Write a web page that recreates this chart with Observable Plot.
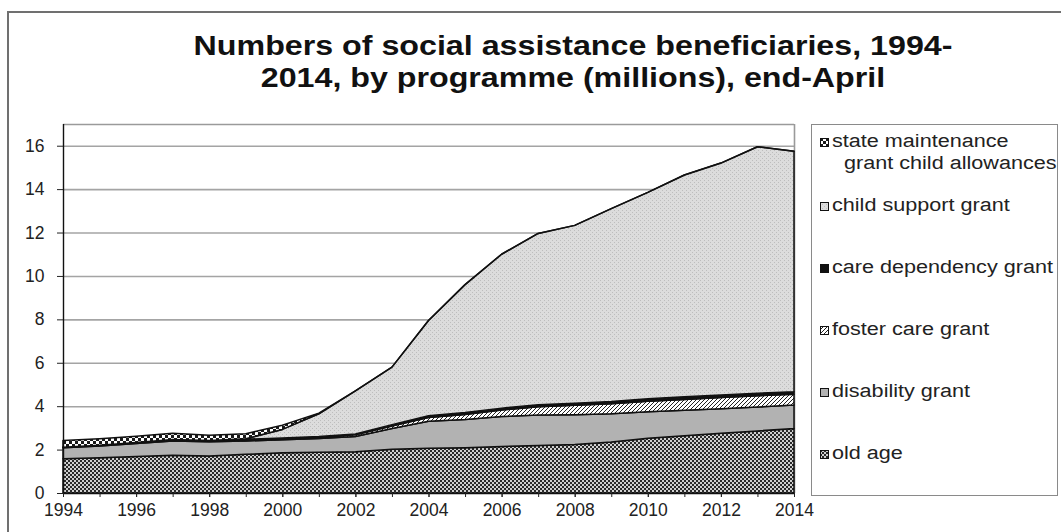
<!DOCTYPE html>
<html>
<head>
<meta charset="utf-8">
<script src="https://cdn.jsdelivr.net/npm/d3@7"></script>
<script src="https://cdn.jsdelivr.net/npm/@observablehq/plot@0.6"></script>
<style>
  html, body { margin: 0; padding: 0; background: #fff; }
  body { width: 1061px; height: 532px; position: relative; overflow: hidden; font-family: "Liberation Sans", Arial, sans-serif; color: #111; }
  #frame { position: absolute; left: 7px; top: 11px; width: 1200px; height: 700px; border-left: 2px solid #707070; border-top: 2px solid #707070; }
  #title { position: absolute; left: 173px; top: 30px; width: 800px; text-align: center; font-weight: bold; font-size: 28px; line-height: 32px; color: #111; transform: scaleX(1.15); transform-origin: 50% 0; }
  #chart { position: absolute; left: 0; top: 0; }
  #legend { position: absolute; left: 811px; top: 124px; width: 245px; height: 370px; border: 1px solid #8a8a8a; }
  .li { position: absolute; font-size: 18px; line-height: 20px; white-space: pre; transform: scaleX(1.2); transform-origin: 0 0; color: #222; }
  .sw { position: absolute; width: 9px; height: 9px; }
  #defs { position: absolute; width: 0; height: 0; }
</style>
</head>
<body>
<svg id="defs" width="0" height="0">
  <defs>
    <pattern id="pOld" width="4" height="4" patternUnits="userSpaceOnUse">
      <rect width="4" height="4" fill="#d0d0d0"/>
      <rect x="0" y="0" width="2" height="2" fill="#2a2a2a"/>
      <rect x="2" y="2" width="2" height="2" fill="#2a2a2a"/>
    </pattern>
    <pattern id="pDis" width="4" height="4" patternUnits="userSpaceOnUse">
      <rect width="4" height="4" fill="#b2b2b2"/>
    </pattern>
    <pattern id="pFos" width="4" height="4" patternUnits="userSpaceOnUse">
      <rect width="4" height="4" fill="#ffffff"/>
      <path d="M-1,1 l2,-2 M0,4 l4,-4 M3,5 l2,-2" stroke="#222" stroke-width="1"/>
    </pattern>
    <pattern id="pCare" width="4" height="4" patternUnits="userSpaceOnUse">
      <rect width="4" height="4" fill="#111"/>
    </pattern>
    <pattern id="pCsg" width="4" height="4" patternUnits="userSpaceOnUse">
      <rect width="4" height="4" fill="#dcdcdc"/>
      <rect x="0" y="0" width="1" height="1" fill="#bdbdbd"/>
      <rect x="2" y="2" width="1" height="1" fill="#bdbdbd"/>
    </pattern>
    <pattern id="pSmg" width="6" height="6" patternUnits="userSpaceOnUse">
      <rect width="6" height="6" fill="#ffffff"/>
      <rect x="0" y="0" width="3" height="3" fill="#1a1a1a"/>
      <rect x="3" y="3" width="3" height="3" fill="#1a1a1a"/>
    </pattern>
  </defs>
</svg>
<div id="frame"></div>
<div id="title">Numbers of social assistance beneficiaries, 1994-<br>2014, by programme (millions), end-April</div>
<div id="chart"></div>
<div id="legend"></div>
<script>
// ---- data (millions, end-April) ----
const years = [1994, 1995, 1996, 1997, 1998, 1999, 2000, 2001, 2002, 2003, 2004, 2005, 2006, 2007, 2008, 2009, 2010, 2011, 2012, 2013, 2014];
const oldAge = [1.58, 1.62, 1.68, 1.74, 1.70, 1.78, 1.85, 1.88, 1.90, 2.02, 2.06, 2.09, 2.14, 2.19, 2.23, 2.35, 2.52, 2.64, 2.75, 2.86, 2.97];
const disabilityGrant = [0.50, 0.55, 0.60, 0.66, 0.66, 0.62, 0.60, 0.63, 0.70, 0.95, 1.25, 1.30, 1.38, 1.40, 1.38, 1.30, 1.22, 1.17, 1.13, 1.10, 1.08];
const fosterCareGrant = [0.03, 0.03, 0.04, 0.04, 0.04, 0.05, 0.05, 0.06, 0.08, 0.12, 0.17, 0.23, 0.30, 0.38, 0.43, 0.46, 0.49, 0.50, 0.52, 0.52, 0.50];
const careDependencyGrant = [0.00, 0.00, 0.01, 0.02, 0.02, 0.03, 0.03, 0.03, 0.04, 0.06, 0.08, 0.09, 0.09, 0.10, 0.10, 0.11, 0.11, 0.12, 0.12, 0.12, 0.12];
const childSupportGrant = [0.00, 0.00, 0.00, 0.00, 0.00, 0.02, 0.40, 1.05, 1.98, 2.65, 4.39, 5.89, 7.09, 7.89, 8.19, 8.88, 9.51, 10.22, 10.68, 11.35, 11.08];
const stateMaintenance = [0.31, 0.30, 0.28, 0.29, 0.24, 0.23, 0.19, 0.03, 0.00, 0.00, 0.00, 0.00, 0.00, 0.00, 0.00, 0.00, 0.00, 0.00, 0.00, 0.00, 0.00];

// stacking order, bottom to top
const seriesNames = ["old age", "disability grant", "foster care grant", "care dependency grant", "child support grant", "state maintenance grant child allowances"];
const seriesValues = [oldAge, disabilityGrant, fosterCareGrant, careDependencyGrant, childSupportGrant, stateMaintenance];
const seriesFills = ["url(#pOld)", "url(#pDis)", "url(#pFos)", "url(#pCare)", "url(#pCsg)", "url(#pSmg)"];

// legend (top to bottom) labels, split into lines
const legendItems = [
  {name: "state maintenance grant child allowances", lines: ["state maintenance", "  grant child allowances"], y: 141},
  {name: "child support grant", lines: ["child support grant"], y: 205},
  {name: "care dependency grant", lines: ["care dependency grant"], y: 267},
  {name: "foster care grant", lines: ["foster care grant"], y: 329},
  {name: "disability grant", lines: ["disability grant"], y: 391},
  {name: "old age", lines: ["old age"], y: 453}
];

const yTicks = [0, 2, 4, 6, 8, 10, 12, 14, 16];
const xLabelTicks = [1994, 1996, 1998, 2000, 2002, 2004, 2006, 2008, 2010, 2012, 2014];

const rows = [];
seriesNames.forEach((s, i) => years.forEach((yr, j) => rows.push({series: s, year: yr, value: seriesValues[i][j]})));

const chart = Plot.plot({
  width: 800,
  height: 532,
  marginLeft: 63,
  marginRight: 6,
  marginTop: 124,
  marginBottom: 39,
  style: {fontFamily: "'Liberation Sans', Arial, sans-serif", color: "#222", background: "transparent", overflow: "visible"},
  x: {type: "linear", domain: [1994, 2014]},
  y: {domain: [0, 17]},
  color: {type: "ordinal", domain: seriesNames, range: seriesFills},
  marks: [
    Plot.ruleY(yTicks.filter(d => d > 0), {stroke: "#a4a4a4", strokeWidth: 1.6}),
    Plot.ruleY([17], {stroke: "#9a9a9a", strokeWidth: 1.6}),
    Plot.ruleX([2014], {y1: 0, y2: 17, stroke: "#9a9a9a", strokeWidth: 1.6}),
    Plot.areaY(rows, {x: "year", y: "value", z: "series", fill: "series", order: seriesNames, stroke: "#111", strokeWidth: 1.5, strokeLinejoin: "round"}),
    Plot.ruleY([0], {stroke: "#111", strokeWidth: 1.4}),
    Plot.ruleX([1994], {y1: 0, y2: 17, stroke: "#111", strokeWidth: 1.4}),
    Plot.axisY({ticks: yTicks, tickSize: 6, tickPadding: 13, fontSize: 17.5, label: null, tickFormat: d => String(d)}),
    Plot.axisX({ticks: years, tickSize: 4, tickFormat: () => "", label: null}),
    Plot.axisX({ticks: xLabelTicks, tickSize: 4, tickPadding: 6, fontSize: 17.5, label: null, tickFormat: d => String(d)})
  ]
});
document.getElementById("chart").appendChild(chart);

// legend
const legend = document.getElementById("legend");
const L0 = 811, T0 = 124;
legendItems.forEach(item => {
  const fill = seriesFills[seriesNames.indexOf(item.name)];
  const sw = document.createElementNS("http://www.w3.org/2000/svg", "svg");
  sw.setAttribute("class", "sw");
  sw.setAttribute("width", 9);
  sw.setAttribute("height", 9);
  sw.style.left = (819 - L0) + "px";
  sw.style.top = (item.y - 4.5 - T0) + "px";
  const r = document.createElementNS("http://www.w3.org/2000/svg", "rect");
  r.setAttribute("x", 0.5); r.setAttribute("y", 0.5);
  r.setAttribute("width", 8); r.setAttribute("height", 8);
  r.setAttribute("fill", fill); r.setAttribute("stroke", "#111"); r.setAttribute("stroke-width", 1);
  sw.appendChild(r);
  legend.appendChild(sw);
  item.lines.forEach((ln, k) => {
    const d = document.createElement("div");
    d.className = "li";
    d.textContent = ln;
    d.style.left = (831 - L0) + "px";
    d.style.top = (item.y + k * 22 - 11.3 - T0) + "px";
    legend.appendChild(d);
  });
});
</script>
</body>
</html>
